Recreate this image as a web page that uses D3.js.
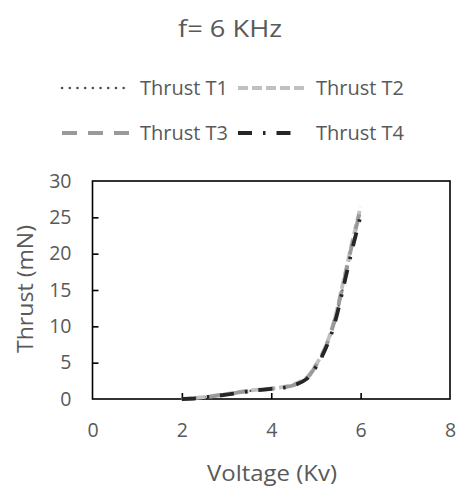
<!DOCTYPE html>
<html>
<head>
<meta charset="utf-8">
<script src="https://cdn.jsdelivr.net/npm/d3@7"></script>
<style>
  body { margin: 0; background: #fff; }
  text { font-family: "Open Sans", "Liberation Sans", sans-serif; fill: #595959; }
</style>
</head>
<body>
<svg id="chart" width="457" height="488"></svg>
<script>
// data
const voltage = [2.0, 2.3, 2.6, 3.0, 3.5, 4.0, 4.2, 4.5, 4.8, 5.0, 5.2, 5.4, 5.6, 5.8, 6.0];
const thrustT1 = [0, 0.15, 0.35, 0.65, 1.1, 1.4, 1.55, 1.9, 2.9, 4.5, 6.8, 10.2, 15.2, 20.6, 25.8];
const thrustT2 = [0, 0.15, 0.35, 0.7, 1.15, 1.45, 1.6, 2.0, 3.0, 4.7, 7.0, 10.6, 15.8, 21.3, 26.5];
const thrustT3 = [0, 0.1, 0.3, 0.65, 1.1, 1.4, 1.55, 1.9, 2.9, 4.6, 6.9, 10.4, 15.5, 21.0, 26.2];
const thrustT4 = [0, 0.1, 0.3, 0.6, 1.05, 1.4, 1.5, 1.85, 2.8, 4.4, 6.7, 10.0, 15.0, 20.3, 25.2];
const seriesNames = ["Thrust T1", "Thrust T2", "Thrust T3", "Thrust T4"];
const xTicks = [0, 2, 4, 6, 8];
const yTicks = [0, 5, 10, 15, 20, 25, 30];

// styles per series
const series = [
  { name: seriesNames[0], values: thrustT1, color: "#505050", width: 2.5, dash: "0.1,7.6", cap: "round" },
  { name: seriesNames[1], values: thrustT2, color: "#c0c0c0", width: 3.8, dash: "10,4", cap: "butt" },
  { name: seriesNames[2], values: thrustT3, color: "#9a9a9a", width: 3.8, dash: "15,11", cap: "butt" },
  { name: seriesNames[3], values: thrustT4, color: "#262626", width: 3.8, dash: "14,11,2.5,11", cap: "butt" }
];

const svg = d3.select("#chart");
const margin = { top: 181, right: 7, bottom: 89, left: 92.5 };
const width = 457 - margin.left - margin.right,
  height = 488 - margin.top - margin.bottom;

const x = d3.scaleLinear().domain([0, 8]).range([0, width]);
const y = d3.scaleLinear().domain([0, 30]).range([height, 0]);

const g = svg.append("g").attr("transform", `translate(${margin.left},${margin.top})`);

// title
svg.append("text").attr("x", 230).attr("y", 37)
  .attr("text-anchor", "middle").style("font-size", "23px")
  .attr("textLength", 104).attr("lengthAdjust", "spacingAndGlyphs").text("f= 6 KHz");

// plot border
g.append("rect").attr("width", width).attr("height", height)
  .attr("fill", "none").attr("stroke", "#000").attr("stroke-width", 1.6);

// ticks inside
const xAxis = g.append("g").attr("transform", `translate(0,${height})`)
  .call(d3.axisBottom(x).tickValues(xTicks).tickSizeInner(-6).tickSizeOuter(0).tickPadding(24));
const yAxis = g.append("g")
  .call(d3.axisLeft(y).tickValues(yTicks).tickSizeInner(-6).tickSizeOuter(0).tickPadding(21));
[xAxis, yAxis].forEach(a => {
  a.select(".domain").remove();
  a.selectAll(".tick line").attr("stroke", "#000").attr("stroke-width", 1.6);
  a.selectAll(".tick text").style("font-size", "19.5px").style("fill", "#595959").attr("font-family", null);
});
xAxis.selectAll(".tick").filter(d => d === 0 || d === 8).select("line").remove();
yAxis.selectAll(".tick").filter(d => d === 0 || d === 30).select("line").remove();

// axis titles
svg.append("text").attr("x", 272).attr("y", 481)
  .attr("text-anchor", "middle").style("font-size", "21px")
  .attr("textLength", 130).attr("lengthAdjust", "spacingAndGlyphs").text("Voltage (Kv)");
svg.append("text").attr("transform", "translate(33,289) rotate(-90)")
  .attr("text-anchor", "middle").style("font-size", "21px")
  .attr("textLength", 128).attr("lengthAdjust", "spacingAndGlyphs").text("Thrust (mN)");

// lines
const line = d3.line().x((d, i) => x(voltage[i])).y(d => y(d)).curve(d3.curveCatmullRom);
series.forEach(s => {
  g.append("path").datum(s.values).attr("d", line)
    .attr("fill", "none").attr("stroke", s.color)
    .attr("stroke-width", s.width).attr("stroke-dasharray", s.dash)
    .attr("stroke-linecap", s.cap);
});

// legend
const legendPos = [[62, 88], [238, 88], [62, 133], [238, 133]];
const legendLen = [62, 70, 68, 57];
series.forEach((s, i) => {
  const [lx, ly] = legendPos[i];
  svg.append("line").attr("x1", lx).attr("x2", lx + legendLen[i]).attr("y1", ly).attr("y2", ly)
    .attr("stroke", s.color).attr("stroke-width", s.width)
    .attr("stroke-dasharray", s.dash).attr("stroke-linecap", s.cap);
  svg.append("text").attr("x", lx + 78).attr("y", ly + 7)
    .style("font-size", "20px").text(s.name);
});
</script>
</body>
</html>
